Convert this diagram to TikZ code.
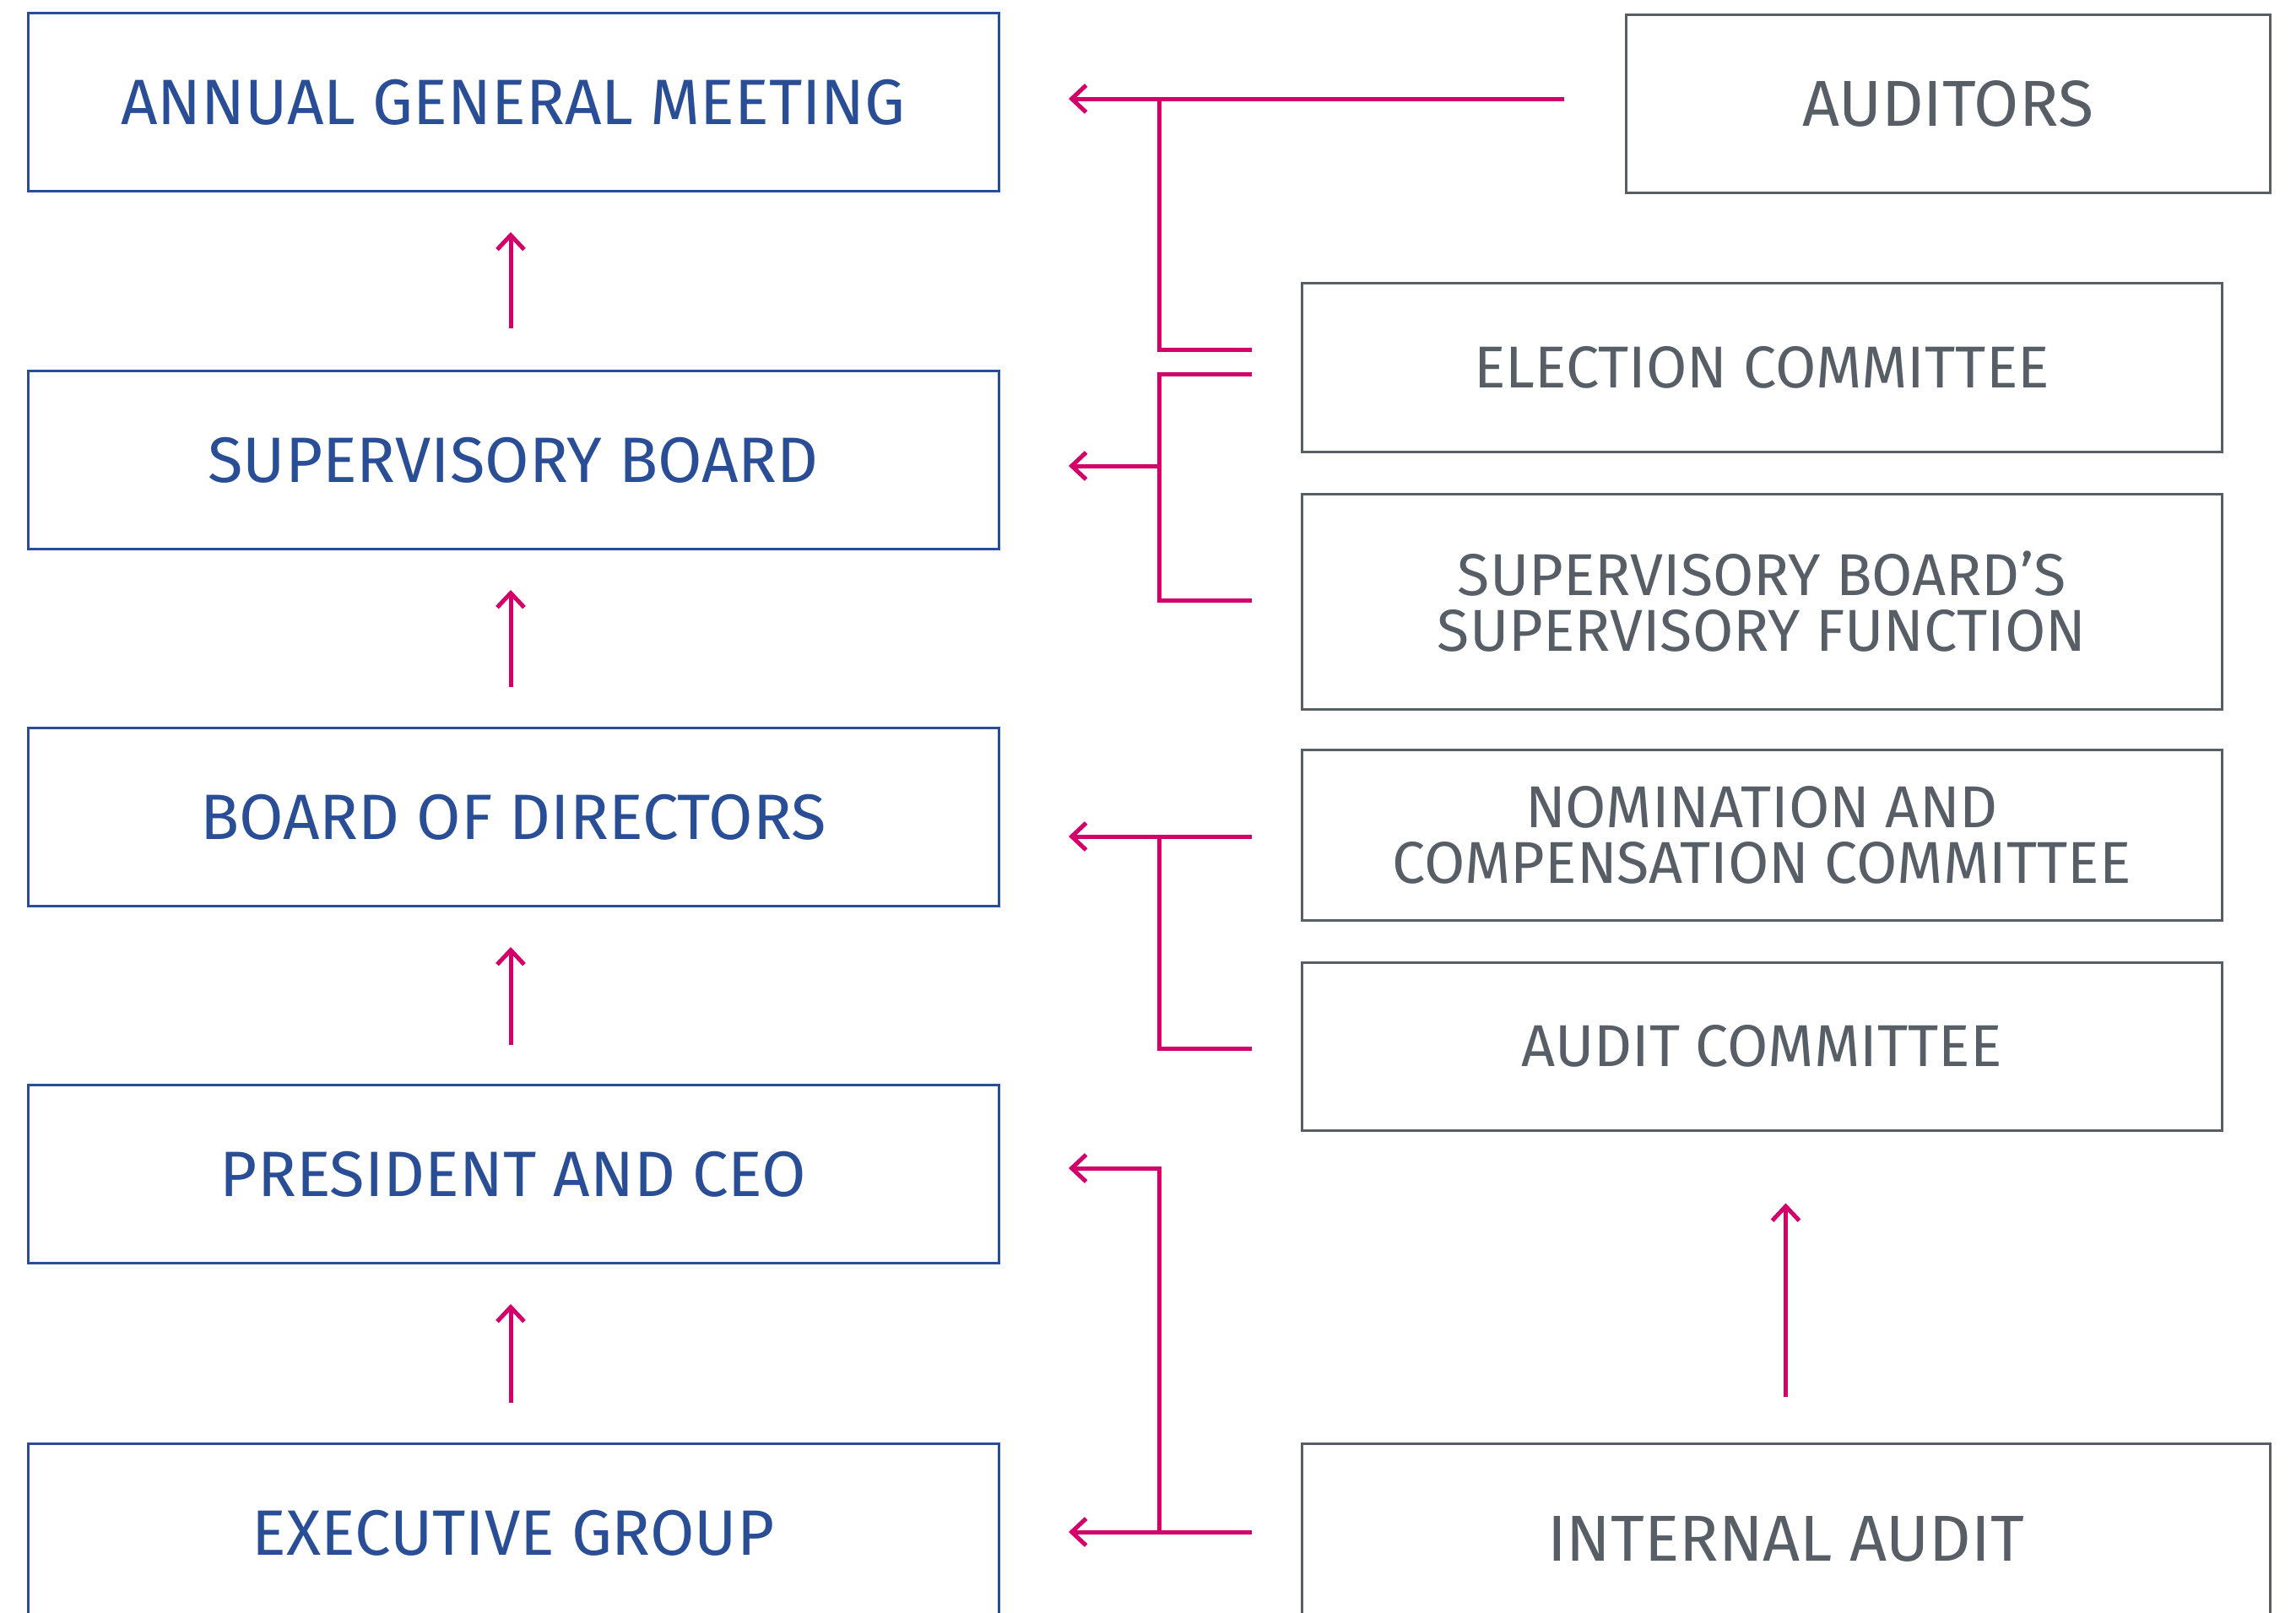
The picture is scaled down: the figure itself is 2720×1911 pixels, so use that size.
\documentclass[tikz,border=0pt]{standalone}
\usepackage{fontspec}
\setmainfont{Fira Sans}
\usetikzlibrary{arrows.meta,calc}
\definecolor{cblue}{HTML}{2A4E96}
\definecolor{cgray}{HTML}{575E66}
\definecolor{cpink}{HTML}{D4006A}
\begin{document}
\begin{tikzpicture}[x=1pt,y=-1pt,
  lbox/.style={draw=cblue, line width=3pt, text=cblue, inner sep=0pt, align=center,
    minimum width=1150pt, minimum height=211pt, font=\fontsize{76}{76}\selectfont},
  rbox/.style={draw=cgray, line width=3pt, text=cgray, inner sep=0pt, align=center,
    font=\fontsize{70}{66}\selectfont},
  bigtext/.style={font=\fontsize{77}{77}\selectfont},
  pk/.style={draw=cpink, line width=5pt, line join=miter},
  arr/.style={pk, -{Straight Barb[length=17pt,width=32pt]}}]
\useasboundingbox (0,0) rectangle (2720,1911);
\clip (0,0) rectangle (2720,1911);
% left column
\node[lbox] (agm) at (608,121) {ANNUAL GENERAL MEETING};
\node[lbox] (sb)  at (608,545) {SUPERVISORY BOARD};
\node[lbox] (bod) at (608,968) {BOARD OF DIRECTORS};
\node[lbox] (pres) at (608,1391) {PRESIDENT AND CEO};
\node[lbox, minimum height=212pt] (eg) at (608,1816) {EXECUTIVE GROUP};
% right column
\node[rbox, bigtext, minimum width=763pt, minimum height=210pt] (aud) at (2307.5,123) {AUDITORS};
\node[rbox, minimum width=1090pt, minimum height=200pt] (ec) at (2087,435) {ELECTION COMMITTEE};
\node[rbox, minimum width=1090pt, minimum height=255pt] (sbsf) at (2087,713) {SUPERVISORY BOARD’S\\SUPERVISORY FUNCTION};
\node[rbox, minimum width=1090pt, minimum height=202pt] (ncc) at (2087,989) {NOMINATION AND\\COMPENSATION COMMITTEE};
\node[rbox, minimum width=1090pt, minimum height=199pt] (ac) at (2087,1239.5) {AUDIT COMMITTEE};
\node[rbox, bigtext, minimum width=1147pt, minimum height=226pt] (ia) at (2115.5,1823) {INTERNAL AUDIT};
% vertical arrows, left column
\draw[arr] ($(sb.north)+(-3,-49)$) -- ($(agm.south)+(-3,47)$);
\draw[arr] ($(bod.north)+(-3,-47)$) -- ($(sb.south)+(-3,47)$);
\draw[arr] ($(pres.north)+(-3,-46)$) -- ($(bod.south)+(-3,47)$);
\draw[arr] ($(eg.north)+(-3,-47)$) -- ($(pres.south)+(-3,47)$);
% internal audit to audit committee
\draw[arr] ($(ia.north)+(0,-54)$) -- ($(ia.north |- ac.south)+(0,85)$);
% auditors / election committee -> AGM
\coordinate (audL) at (1853,117);
\coordinate (agmR) at (1266,117);
\coordinate (j1) at (1373,117);
\draw[arr] (audL) -- (agmR);
\draw[pk] (1483,414) -| (j1);
% election committee / SB supervisory function -> SB
\draw[pk] (1483,443) -- (1373,443) -- (1373,711) -- (1483,711);
\draw[arr] (1373,552) -- (1266,552);
% NCC / audit committee -> BoD
\draw[arr] (1483,991) -- (1266,991);
\draw[pk] (1373,991) |- (1483,1242);
% internal audit -> EG and President
\draw[arr] (1483,1815) -- (1266,1815);
\draw[arr] (1373,1815) |- (1266,1384);
\end{tikzpicture}
\end{document}
